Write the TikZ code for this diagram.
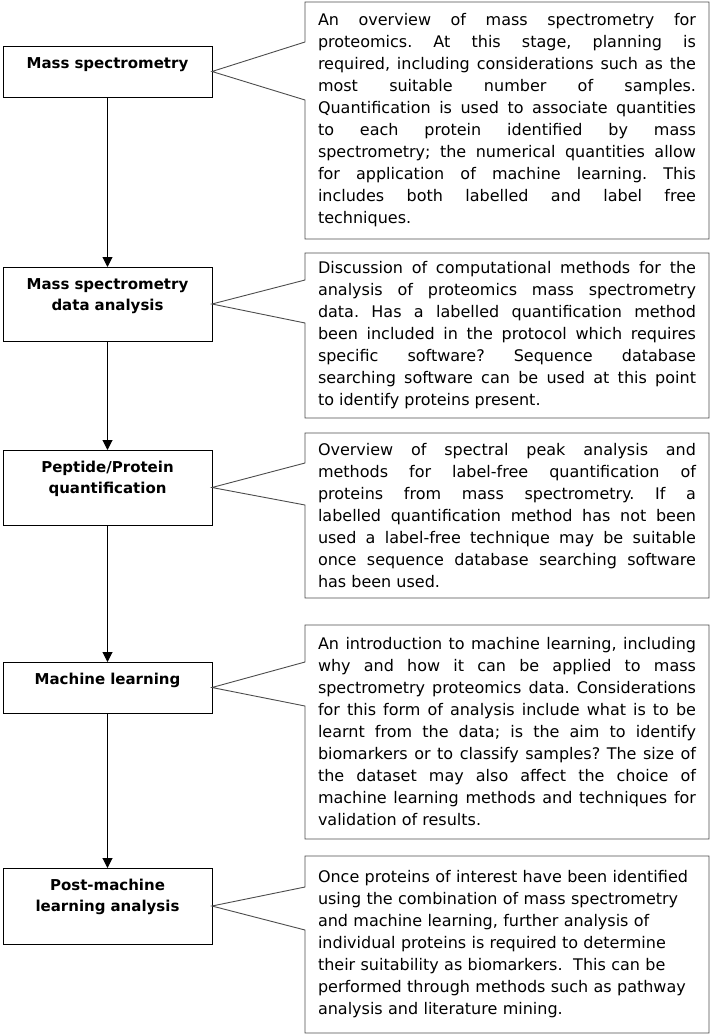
\documentclass[tikz,border=0pt]{standalone}
\usepackage{fontspec}
\setmainfont{DejaVu Sans}
\usetikzlibrary{arrows.meta,calc}
\frenchspacing

\newcommand{\notefont}{\fontsize{16}{22}\selectfont\tolerance=10000\hyphenpenalty=10000}

\tikzset{
	stage/.style={draw=black, line width=1pt, anchor=north, outer sep=0pt, minimum width=209pt, text width=199pt, inner xsep=5pt, inner ysep=10pt, text height=12pt, align=center, font=\fontsize{15}{21}\selectfont\bfseries},
	note/.style={anchor=north west, outer sep=0pt, text width=378pt, inner xsep=13pt, inner ysep=0pt, align=justify, font=\notefont},
	noteline/.style={draw=black!70, line width=0.9pt},
	flow/.style={draw=black, line width=1pt, -{Triangle[length=10pt,width=10pt]}}
}

\begin{document}
\begin{tikzpicture}[x=1pt,y=-1pt]
	\useasboundingbox (0,0) rectangle (714,1034);

	\node[stage, text depth=19pt] (ms)   at (107.5,46)  {Mass spectrometry};
	\node[stage, text depth=42pt] (msda) at (107.5,267) {Mass spectrometry\\data analysis};
	\node[stage, text depth=43pt] (pq)   at (107.5,450) {Peptide/Protein\\quantification};
	\node[stage, text depth=19pt] (ml)   at (107.5,662) {Machine learning};
	\node[stage, text depth=44pt] (pml)  at (107.5,868) {Post-machine\\learning analysis};

	\node[note, minimum height=237pt] (n1) at (305,2) {An overview of mass spectrometry for\linebreak
		proteomics. At this stage, planning is\linebreak
		required, including considerations such as the\linebreak
		most suitable number of samples.\linebreak
		Quantification is used to associate quantities\linebreak
		to each protein identified by mass\linebreak
		spectrometry; the numerical quantities allow\linebreak
		for application of machine learning. This\linebreak
		includes both labelled and label free\linebreak
		techniques.};
	\node[note, minimum height=165pt] (n2) at (305,253) {Discussion of computational methods for the\linebreak
		analysis of proteomics mass spectrometry\linebreak
		data. Has a labelled quantification method\linebreak
		been included in the protocol which requires\linebreak
		specific software? Sequence database\linebreak
		searching software can be used at this point\linebreak
		to identify proteins present.};
	\node[note, minimum height=165pt] (n3) at (305,433) {Overview of spectral peak analysis and\linebreak
		methods for label-free quantification of\linebreak
		proteins from mass spectrometry. If a\linebreak
		labelled quantification method has not been\linebreak
		used a label-free technique may be suitable\linebreak
		once sequence database searching software\linebreak
		has been used.};
	\node[note, minimum height=214pt] (n4) at (305,625) {An introduction to machine learning, including\linebreak
		why and how it can be applied to mass\linebreak
		spectrometry proteomics data. Considerations\linebreak
		for this form of analysis include what is to be\linebreak
		learnt from the data; is the aim to identify\linebreak
		biomarkers or to classify samples? The size of\linebreak
		the dataset may also affect the choice of\linebreak
		machine learning methods and techniques for\linebreak
		validation of results.};
	\node[note, minimum height=177pt, align=left] (n5) at (305,856) {Once proteins of interest have been identified\\
		using the combination of mass spectrometry\\
		and machine learning, further analysis of\\
		individual proteins is required to determine\\
		their suitability as biomarkers.~ This can be\\
		performed through methods such as pathway\\
		analysis and literature mining.};

	% callout outlines, opened towards the stage boxes
	\draw[noteline] (n1.north west) -- ($(n1.west |- ms.east)+(0,-29.5)$) -- (ms.east) -- ($(n1.west |- ms.east)+(0,28.5)$) -- (n1.south west) -- (n1.south east) -- (n1.north east) -- cycle;
	\draw[noteline] (n2.north west) -- ($(n2.west |- msda.east)+(0,-24)$) -- (msda.east) -- ($(n2.west |- msda.east)+(0,19)$) -- (n2.south west) -- (n2.south east) -- (n2.north east) -- cycle;
	\draw[noteline] (n3.north west) -- ($(n3.west |- pq.east)+(0,-24.5)$) -- (pq.east) -- ($(n3.west |- pq.east)+(0,17.5)$) -- (n3.south west) -- (n3.south east) -- (n3.north east) -- cycle;
	\draw[noteline] (n4.north west) -- ($(n4.west |- ml.east)+(0,-25.5)$) -- (ml.east) -- ($(n4.west |- ml.east)+(0,18.5)$) -- (n4.south west) -- (n4.south east) -- (n4.north east) -- cycle;
	\draw[noteline] (n5.north west) -- ($(n5.west |- pml.east)+(0,-19)$) -- (pml.east) -- ($(n5.west |- pml.east)+(0,24)$) -- (n5.south west) -- (n5.south east) -- (n5.north east) -- cycle;

	\path[flow] (ms) edge (msda);
	\path[flow] (msda) edge (pq);
	\path[flow] (pq) edge (ml);
	\path[flow] (ml) edge (pml);
\end{tikzpicture}
\end{document}
